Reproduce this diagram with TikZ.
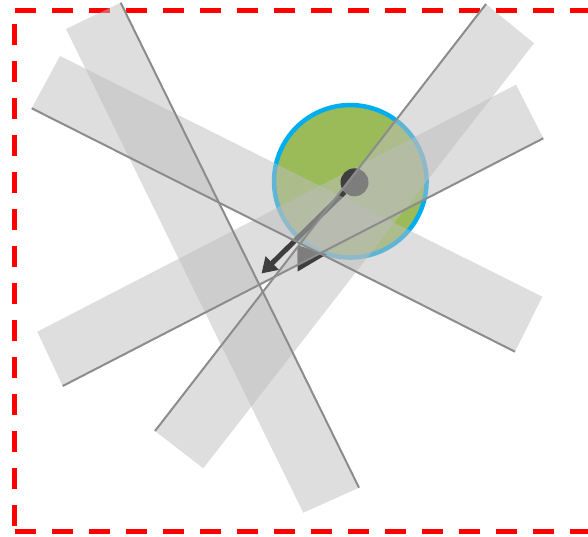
\documentclass[tikz,border=0pt]{standalone}
\usetikzlibrary{arrows.meta}
\definecolor{stripgray}{RGB}{189,189,189}
\definecolor{edgegray}{RGB}{140,140,140}
\definecolor{darkfill}{RGB}{62,62,62}
\definecolor{discgreen}{RGB}{155,187,89}
\definecolor{discblue}{RGB}{0,174,239}
\definecolor{framered}{RGB}{255,0,0}
\begin{document}
\begin{tikzpicture}[x=1pt,y=-1pt,
  strip/.style={fill=stripgray, fill opacity=0.5},
  edgeline/.style={draw=edgegray, line width=2pt},
  frame/.style={draw=framered, line width=4.6pt, dash pattern=on 21pt off 16pt},
  pointer/.style={draw=darkfill, line width=5pt, -{Triangle[length=15pt,width=18pt]}},
  darkshape/.style={fill=darkfill},
  ]
\useasboundingbox (0,0) rectangle (588,536);
\clip (0,0) rectangle (588,536);

% frame
\coordinate (fTL) at (14.5,10.5);
\coordinate (fBL) at (14.5,531.5);
\coordinate (fTR) at (620,10.5);
\coordinate (fBR) at (620,531.5);
\draw[frame] (fTL) -- (fTR);
\draw[frame] (fBL) -- (fBR);
\draw[frame, dash phase=31.5pt] (fBL) -- (fTL);

% strip corners
\coordinate (a1) at (66,29);
\coordinate (a2) at (120.7,2.7);
\coordinate (a3) at (359,487.7);
\coordinate (a4) at (303.3,512.7);
\coordinate (b1) at (60,56);
\coordinate (b2) at (542.3,296.7);
\coordinate (b3) at (515,351.7);
\coordinate (b4) at (31.7,108.3);
\coordinate (c1) at (37.3,331.7);
\coordinate (c2) at (516,84.7);
\coordinate (c3) at (543.3,138.3);
\coordinate (c4) at (62.7,386);
\coordinate (d1) at (155,431);
\coordinate (d2) at (486,4);
\coordinate (d3) at (534,43.3);
\coordinate (d4) at (203.3,468.3);

% disc
\node[circle, draw=discblue, line width=4.5pt, fill=discgreen, inner sep=0pt,
      minimum size=152.5pt] (disc) at (350.3,181.3) {};

\fill[strip] (a1) -- (a2) -- (a3) -- (a4) -- cycle;
\fill[strip] (c1) -- (c2) -- (c3) -- (c4) -- cycle;

% dot
\node[circle, fill=darkfill, inner sep=0pt, outer sep=0pt, minimum size=28pt] (dot) at (354.5,182.3) {};

\fill[strip] (d1) -- (d2) -- (d3) -- (d4) -- cycle;

% triangle marker
\coordinate (t1) at (297.7,245.5);
\coordinate (t2) at (297.7,271.5);
\coordinate (t3) at (326.7,254.3);
\fill[darkshape] (t1) -- (t2) -- (t3) -- cycle;
\begin{scope}
  \clip (c1) -- (c2) -- (c3) -- (c4) -- cycle;
  \fill[strip] (t1) -- (t2) -- (t3) -- cycle;
\end{scope}

% arrow
\coordinate (tip1) at (261.5,273.5);
\draw[pointer] (dot) -- (tip1);

\fill[strip] (b1) -- (b2) -- (b3) -- (b4) -- cycle;

% edge lines
\draw[edgeline] (a2) -- (a3);
\draw[edgeline] (b4) -- (b3);
\draw[edgeline] (c4) -- (c3);
\draw[edgeline] (d1) -- (d2);
\end{tikzpicture}
\end{document}
